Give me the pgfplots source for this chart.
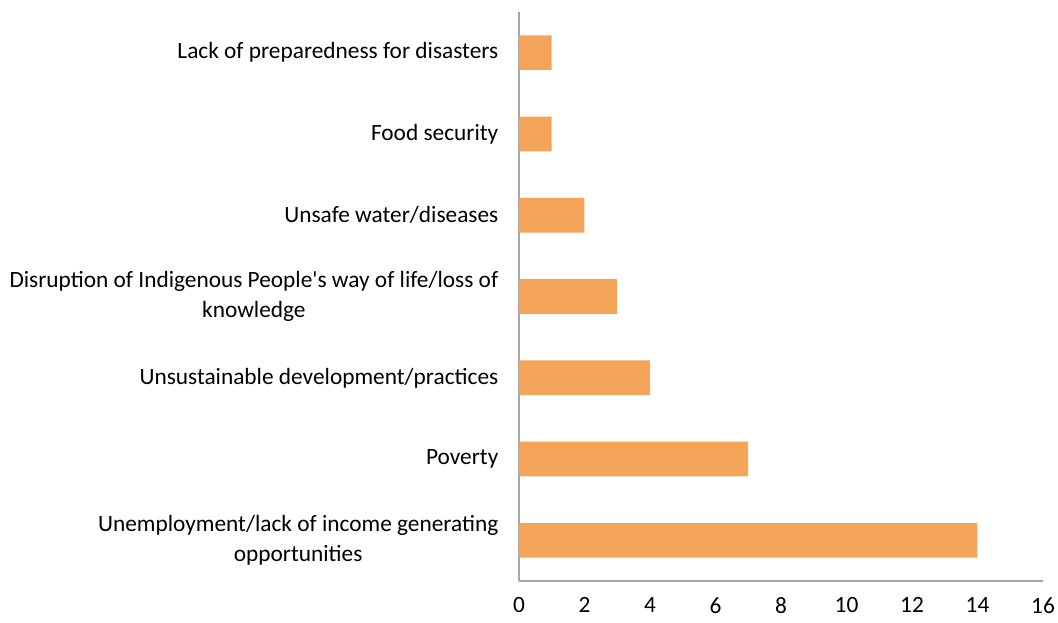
\documentclass[border=0pt]{standalone}
\usepackage{pgfplots}
\pgfplotsset{compat=1.18}
\usepackage{fontspec}
\setmainfont{Carlito}[Ligatures=TeXOff]
\definecolor{barc}{HTML}{F5A55A}
\definecolor{axc}{HTML}{A6A6A6}
\begin{document}
\begin{tikzpicture}
\useasboundingbox (0,0) rectangle (793.5pt,466.5pt);
\begin{axis}[
  at={(389.25pt,30.75pt)}, anchor=south west,
  scale only axis, width=393pt, height=426.75pt,
  xbar, bar width=26pt,
  xmin=0, xmax=16, ymin=-0.5, ymax=6.5,
  xtick={0,2,...,16},
  ytick={0,...,6},
  yticklabels={{Unemployment/lack of income generating\\opportunities},
               Poverty,
               Unsustainable development/practices,
               {Disruption of Indigenous People's way of life/loss of\\knowledge},
               Unsafe water/diseases,
               Food security,
               Lack of preparedness for disasters},
  axis x line*=bottom, axis y line*=left,
  axis line style={axc, line width=0.9pt, -},
  major tick length=0pt,
  tick style={draw=none},
  /pgf/number format/assume math mode=true,
  xticklabel style={font=\fontsize{17.5}{21}\selectfont, yshift=-9pt},
  yticklabel style={font=\fontsize{17.5}{22.5}\selectfont, align=center, xshift=-12pt},
  clip=false,
]
\addplot[fill=barc, draw=none] coordinates {(14,0) (7,1) (4,2) (3,3) (2,4) (1,5) (1,6)};
\end{axis}
\end{tikzpicture}
\end{document}
